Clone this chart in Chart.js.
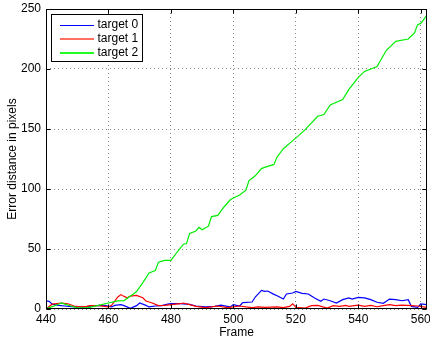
<!DOCTYPE html>
<html>
<head>
<meta charset="utf-8">
<script src="https://cdn.jsdelivr.net/npm/chart.js@4/dist/chart.umd.min.js"></script>
<style>
  html, body { margin: 0; padding: 0; background: #fff; }
  #wrap { width: 430px; height: 342px; }
</style>
</head>
<body>
<div id="wrap"><canvas id="error-distance" width="430" height="342"></canvas></div>
<script>
const seriesNames = ["target 0", "target 1", "target 2"];
const seriesColors = ["#0000ff", "#ff0000", "#00ee00"];
const legendSwatchColors = ["#0000ff", "#ff7060", "#22ff22"];

const xTicks = [440, 460, 480, 500, 520, 540, 560];
const yTicks = [0, 50, 100, 150, 200, 250];

// target 0 (blue)
const frames0 = [440, 441, 442, 444, 446, 448, 450, 453, 455, 457, 459, 461, 462, 464, 465, 467, 469, 470, 472, 473,
  475, 477, 479, 480, 483, 486, 488, 491, 494, 496, 498, 499, 500, 502, 503, 506, 507, 509, 510, 511,
  513, 514, 516, 517, 519, 520, 522, 524, 526, 528, 529, 531, 533, 535, 537, 538, 540, 542, 544, 546,
  548, 550, 552, 554, 556, 557, 559, 560, 562];
const values0 = [6.7, 6.4, 4, 3, 2.5, 2, 1.7, 1.7, 2.5, 3, 2.8, 1.7, 3, 3.6, 2.8, 0.6, 2.8, 5, 3, 1.7,
  2.5, 2.8, 4, 4.4, 4.4, 3.9, 2.5, 1.7, 2.2, 3.3, 2.2, 1.7, 3.6, 2.5, 5.3, 5.8, 10, 15.5, 14.7, 15,
  12.2, 11, 8.3, 12.5, 13.3, 14.7, 13, 12.5, 9.2, 6.4, 8.3, 6.9, 5, 7.8, 9.2, 8.3, 9.7, 9.2, 7.8, 5.6,
  4.7, 8.3, 7.8, 6.9, 7.8, 2.2, 1.4, 4.2, 3.6];

// target 1 (red)
const frames1 = [440, 442, 445, 447, 449, 451, 453, 454, 457, 460, 461, 463, 464, 465, 466, 467, 469, 471, 472, 474,
  476, 478, 480, 483, 484, 486, 488, 491, 493, 495, 498, 500, 502, 504, 506, 508, 510, 514, 516, 518,
  519, 520, 523, 525, 527, 530, 532, 534, 536, 537, 540, 542, 544, 546, 548, 550, 552, 554, 557, 559, 562];
const values1 = [0.3, 4, 5, 4.4, 2.5, 1.7, 2.2, 2.8, 2.8, 1.7, 3, 10, 12, 10.5, 9.4, 10.8, 11.4, 9.4, 6.7, 5,
  2.8, 3, 3.6, 4.4, 5, 3.6, 2.2, 1.1, 1.7, 2.5, 1.1, 1.7, 2.5, 1.7, 1.1, 1.7, 1.4, 1.7, 1.1, 2.2,
  4.4, 1.4, 0.8, 2.8, 3, 0.8, 2.8, 2.2, 3, 2.2, 3.3, 2.2, 3, 1.9, 2.8, 3.6, 2.8, 3.3, 2.8, 2.5, 1.4];

// target 2 (green)
const frames2 = [440, 442, 444, 445, 446, 448, 450, 453, 455, 460, 463, 465, 466, 468, 469, 471, 473, 475, 476, 478,
  480, 482, 484, 485, 486, 488, 489, 490, 492, 493, 495, 497, 499, 500, 502, 504, 505, 507, 509, 510,
  513, 514, 516, 518, 521, 523, 527, 529, 531, 535, 537, 540, 542, 546, 549, 552, 556, 558, 559, 560, 562];
const values2 = [0.3, 2, 4, 5, 4, 2.5, 1, 1, 2, 5, 6.7, 7, 9, 12.5, 14.5, 22, 30, 32, 39, 40.5,
  40.5, 47.5, 54, 54.5, 63, 65, 68, 66, 69, 77, 78, 85, 91, 92.5, 95, 99, 107, 111, 117, 118,
  120.5, 126.7, 133.6, 138, 144.7, 149.5, 160.6, 162, 170, 174.5, 183, 193, 198, 202, 215.6, 223, 225, 230, 237, 238, 245];

function toPoints(frames, values) {
  return frames.map((f, i) => ({ x: f, y: values[i] }));
}

const allFrames = [frames0, frames1, frames2];
const allValues = [values0, values1, values2];

Chart.defaults.font.family = "'Liberation Sans', Arial, Helvetica, sans-serif";
Chart.defaults.font.size = 12;
Chart.defaults.color = "#000";

// MATLAB style box, inward ticks and legend inside the axes
const matlabAxes = {
  id: "matlabAxes",
  afterDraw(chart) {
    const { ctx, chartArea: a, scales } = chart;
    const L = Math.round(a.left) + 0.5;
    const R = Math.round(a.right) - 0.5;
    const T = Math.round(a.top) + 0.5;
    const B = Math.round(a.bottom) - 0.5;
    ctx.save();
    ctx.setLineDash([]);
    ctx.strokeStyle = "#000";
    ctx.lineWidth = 1;
    ctx.beginPath();
    scales.x.ticks.forEach((t) => {
      const px = Math.round(scales.x.getPixelForValue(t.value)) + 0.5;
      ctx.moveTo(px, B); ctx.lineTo(px, B - 4);
      ctx.moveTo(px, T); ctx.lineTo(px, T + 4);
    });
    scales.y.ticks.forEach((t) => {
      const py = Math.round(scales.y.getPixelForValue(t.value)) + 0.5;
      ctx.moveTo(L, py); ctx.lineTo(L + 4, py);
      ctx.moveTo(R, py); ctx.lineTo(R - 4, py);
    });
    ctx.stroke();
    ctx.strokeRect(L, T, R - L, B - T);

    // legend
    const bx = L + 5, by = T + 5, bw = 91, bh = 47;
    ctx.fillStyle = "#fff";
    ctx.fillRect(bx, by, bw, bh);
    ctx.strokeRect(bx, by, bw, bh);
    ctx.font = "12px 'Liberation Sans', Arial, sans-serif";
    ctx.textBaseline = "middle";
    ctx.textAlign = "left";
    seriesNames.forEach((name, i) => {
      const ry = Math.round(by + 10 + i * 14);
      const h = i === 0 ? 1 : 2;
      ctx.fillStyle = legendSwatchColors[i];
      ctx.fillRect(Math.round(bx + 8), ry - (h - 1), 34, h);
      ctx.fillStyle = "#000";
      ctx.fillText(name, bx + 46, ry);
    });
    ctx.restore();
  },
};

const ctx = document.getElementById("error-distance");

new Chart(ctx, {
  type: "line",
  data: {
    datasets: seriesNames.map((name, i) => ({
      label: name,
      data: toPoints(allFrames[i], allValues[i]),
      borderColor: seriesColors[i],
      backgroundColor: seriesColors[i],
      borderWidth: 1.2,
      pointRadius: 0,
      tension: 0,
      fill: false,
      order: 3 - i,
    })),
  },
  options: {
    responsive: false,
    animation: false,
    devicePixelRatio: 1,
    layout: { padding: { top: 9, right: 3, left: 0, bottom: 0 } },
    plugins: {
      legend: { display: false },
      tooltip: { enabled: false },
    },
    scales: {
      x: {
        type: "linear",
        min: 440,
        max: 562,
        afterBuildTicks: (scale) => {
          scale.ticks = xTicks.map((v) => ({ value: v }));
        },
        afterFit: (scale) => {
          scale.height = 33;
          scale.paddingLeft = 0;
          scale.paddingRight = 0;
        },
        ticks: { padding: 3, maxRotation: 0, autoSkip: false },
        grid: { color: "#888", drawTicks: false, lineWidth: 1 },
        border: { display: false, dash: [1, 3] },
        title: { display: true, text: "Frame", padding: { top: 0, bottom: 2 } },
      },
      y: {
        type: "linear",
        min: 0,
        max: 250,
        afterBuildTicks: (scale) => {
          scale.ticks = yTicks.map((v) => ({ value: v }));
        },
        afterFit: (scale) => {
          scale.width = 46;
          scale.paddingTop = 0;
          scale.paddingBottom = 0;
        },
        ticks: { padding: 5 },
        grid: { color: "#888", drawTicks: false, lineWidth: 1 },
        border: { display: false, dash: [1, 3] },
        title: { display: true, text: "Error distance in pixels", padding: { top: 5, bottom: 0 } },
      },
    },
  },
  plugins: [matlabAxes],
});
</script>
</body>
</html>
